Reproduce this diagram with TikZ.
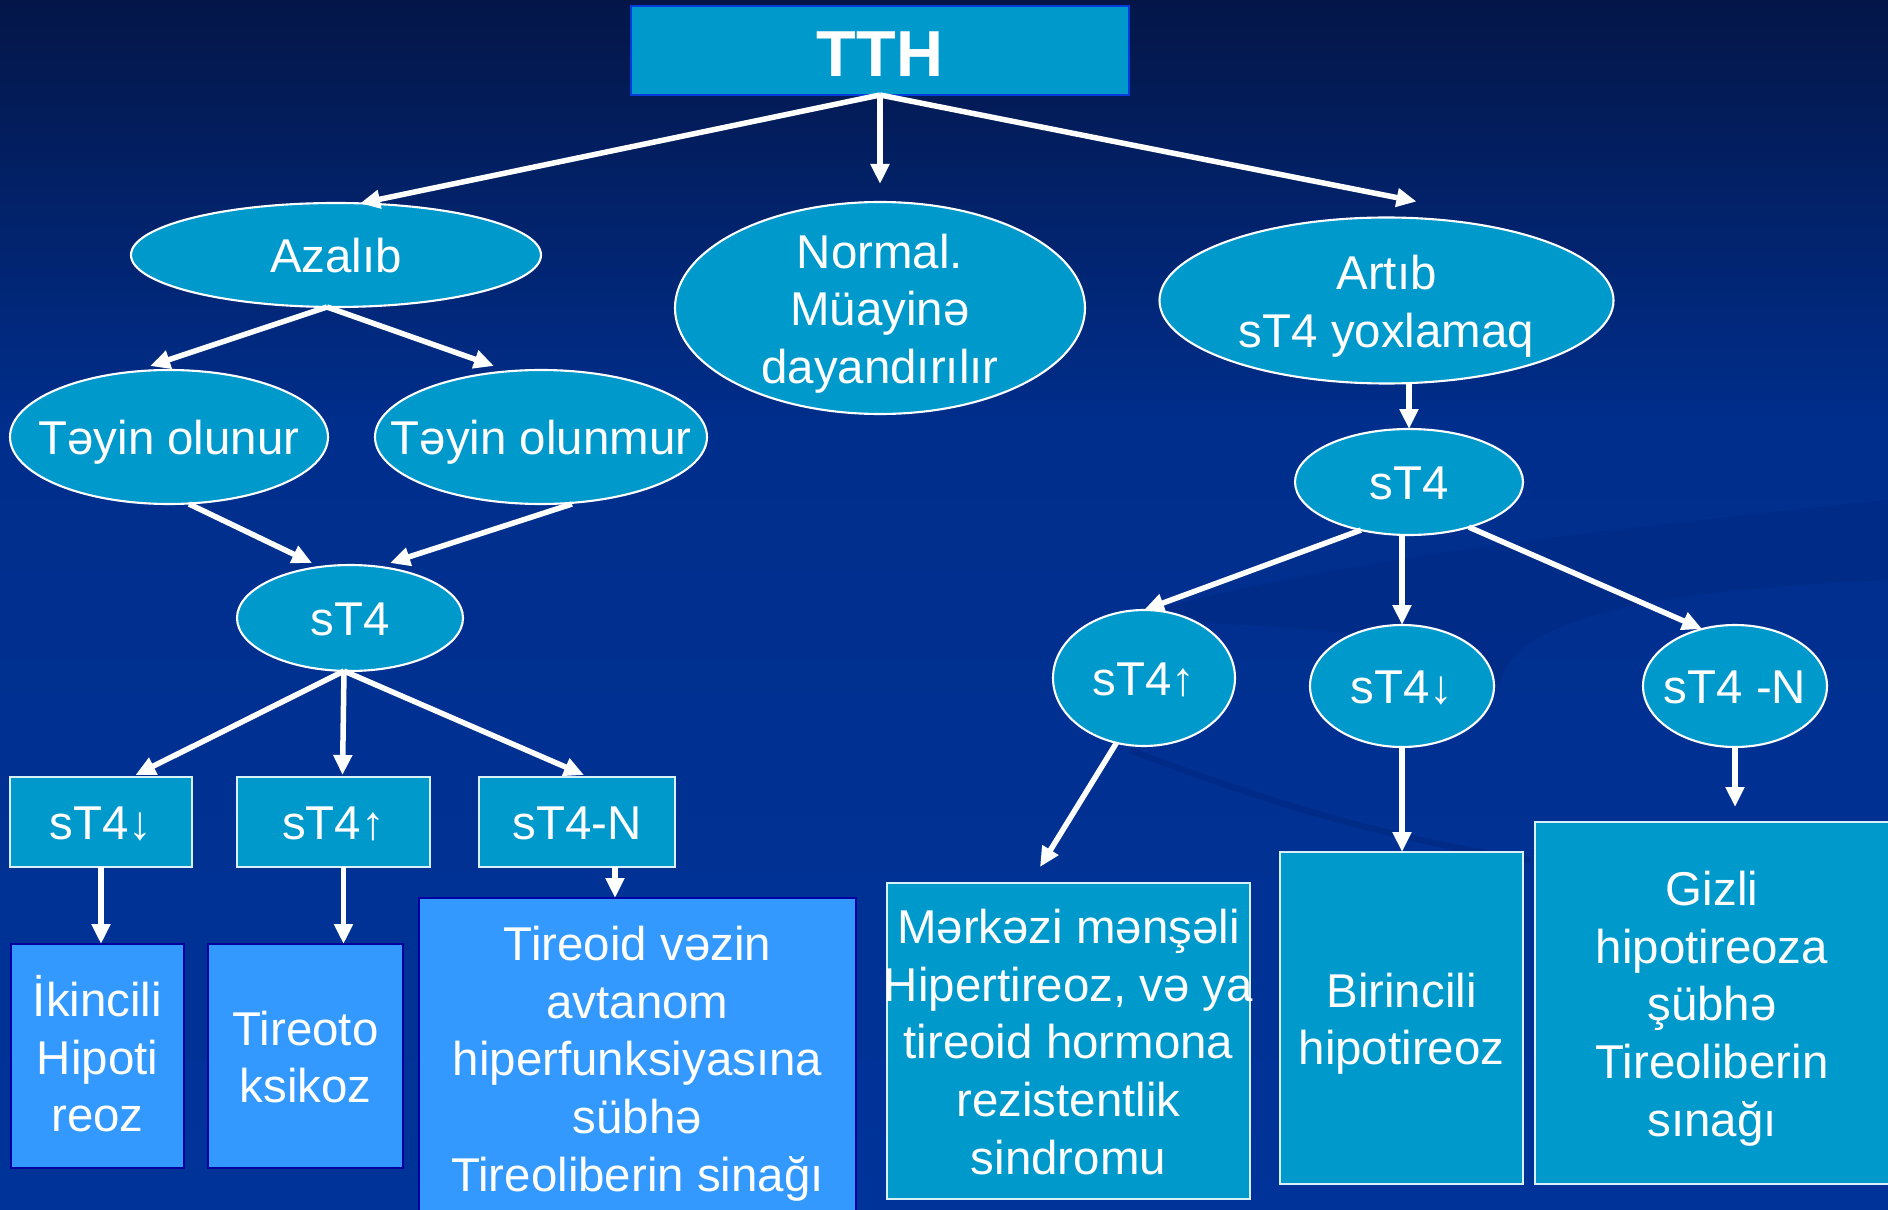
\documentclass[tikz,border=0pt]{standalone}
\usepackage{fontspec}
\setmainfont{Liberation Sans}
\usetikzlibrary{shapes.geometric,arrows.meta,calc}
\definecolor{nodefill}{RGB}{0,153,204}
\definecolor{lightbox}{RGB}{51,153,255}
\definecolor{lightborder}{RGB}{0,0,160}
\definecolor{tthborder}{RGB}{0,60,220}
\definecolor{bgtop}{RGB}{4,22,72}
\definecolor{bgmid}{RGB}{0,46,140}
\definecolor{bgbot}{RGB}{0,51,153}
\definecolor{swirlc}{RGB}{0,30,110}
\newcommand{\ctext}[2][-5.4pt]{\makebox[0pt]{\smash{\raisebox{#1}{\begin{tabular}{@{}c@{}}#2\end{tabular}}}}}
\tikzset{
  base/.style={inner sep=0pt, outer sep=0pt, text=white, font=\fontsize{13.5pt}{16.4pt}\selectfont},
  sz/.style 2 args={minimum width=#1cm, minimum height=#2cm},
  ell/.style={base, ellipse, draw=white, line width=0.6pt, fill=nodefill},
  dbox/.style={base, rectangle, draw=white!85!nodefill, line width=0.6pt, fill=nodefill},
  lbox/.style={base, rectangle, draw=lightborder, line width=0.8pt, fill=lightbox},
  tthbox/.style={base, rectangle, draw=tthborder, line width=0.8pt, fill=nodefill, font=\bfseries\fontsize{18.5pt}{20pt}\selectfont},
  arr/.style={draw=white, line width=0.055cm, -{Triangle[length=0.2cm,width=0.18cm]}},
  swirl/.style={fill=swirlc, fill opacity=0.22},
  swirlline/.style={draw=swirlc, draw opacity=0.3, line width=0.06cm}
}
\begin{document}
\begin{tikzpicture}
\useasboundingbox (0,0) rectangle (18.88,-12.10);
\clip (0,0) rectangle (18.88,-12.10);
% background
\shade[top color=bgtop, bottom color=bgmid] (0,0) rectangle (18.88,-4.25);
\shade[top color=bgmid, bottom color=bgbot] (0,-4.2) rectangle (18.88,-12.10);
\fill[swirl] (11.2,-6.2) .. controls (13.2,-5.6) and (16.0,-5.3) .. (18.88,-5.0)
  -- (18.88,-5.8) .. controls (16.5,-5.9) and (15.0,-6.2) .. (15.0,-6.9)
  .. controls (14.9,-6.4) and (13.2,-6.25) .. cycle;
\draw[swirlline] (11.3,-7.5) .. controls (12.6,-8.0) and (13.9,-8.4) .. (15.3,-8.6);

% nodes
\node[tthbox, sz={4.98}{0.89}] (tth) at (8.80,-0.505) {\ctext[-7.8pt]{TTH}};
\node[ell, sz={4.10}{1.04}] (azal) at (3.36,-2.55) {\ctext{Azalıb}};
\node[ell, sz={4.10}{2.12}] (norm) at (8.80,-3.08) {\ctext{Normal.\\Müayinə\\dayandırılır}};
\node[ell, sz={4.54}{1.66}] (art) at (13.865,-3.005) {\ctext{Artıb\\sT4 yoxlamaq}};
\node[ell, sz={3.18}{1.34}] (tay1) at (1.69,-4.37) {\ctext{Təyin olunur}};
\node[ell, sz={3.32}{1.34}] (tay2) at (5.41,-4.37) {\ctext{Təyin olunmur}};
\node[ell, sz={2.26}{1.06}] (sl) at (3.50,-6.18) {\ctext{sT4}};
\node[ell, sz={2.28}{1.06}] (sr) at (14.09,-4.82) {\ctext{sT4}};
\node[ell, sz={1.82}{1.36}] (r1) at (11.44,-6.78) {\ctext{sT4↑}};
\node[ell, sz={1.84}{1.22}] (r2) at (14.02,-6.86) {\ctext{sT4↓}};
\node[ell, sz={1.84}{1.22}] (r3) at (17.35,-6.86) {\ctext{sT4 -N}};

\node[dbox, sz={1.82}{0.90}] (lb1) at (1.01,-8.22) {\ctext{sT4↓}};
\node[dbox, sz={1.93}{0.90}] (lb2) at (3.335,-8.22) {\ctext{sT4↑}};
\node[dbox, sz={1.96}{0.90}] (lb3) at (5.77,-8.22) {\ctext{sT4-N}};

\node[lbox, sz={1.73}{2.24}] (lc1) at (0.975,-10.56) {\ctext{İkincili\\Hipoti\\reoz}};
\node[lbox, sz={1.95}{2.24}] (lc2) at (3.055,-10.56) {\ctext{Tireoto\\ksikoz}};
\node[lbox, sz={4.37}{3.20}] (lc3) at (6.375,-10.58) {\ctext{Tireoid vəzin\\avtanom\\hiperfunksiyasına\\sübhə\\Tireoliberin sinağı}};

\node[dbox, sz={3.63}{3.16}] (mk) at (10.685,-10.41) {\ctext{Mərkəzi mənşəli\\Hipertireoz, və ya\\tireoid hormona\\rezistentlik\\sindromu}};
\node[dbox, sz={2.43}{3.32}] (bi) at (14.015,-10.18) {\ctext{Birincili\\hipotireoz}};
\node[dbox, sz={3.54}{3.62}] (gz) at (17.12,-10.03) {\ctext{Gizli\\hipotireoza\\şübhə\\Tireoliberin\\sınağı}};

% connectors
\draw[arr] (tth.south) -- (azal.65);
\draw[arr, shorten >=0.18cm] (tth.south) -- (tth.south |- norm.north);
\draw[arr] (tth.south) -- ([xshift=0.30cm,yshift=0.16cm]art.north);

\draw[arr] ([xshift=-0.09cm]azal.south) -- ([xshift=-0.19cm,yshift=0.04cm]tay1.north);
\draw[arr] ([xshift=-0.09cm]azal.south) -- ([xshift=-0.47cm,yshift=0.04cm]tay2.north);
\draw[arr] ([xshift=0.20cm]tay1.south) -- ([xshift=-0.38cm,yshift=0.02cm]sl.north);
\draw[arr] ([xshift=0.31cm]tay2.south) -- ([xshift=0.40cm,yshift=0.02cm]sl.north);

\draw[arr] ([xshift=-0.06cm]sl.south) -- ([xshift=0.345cm,yshift=0.02cm]lb1.north);
\draw[arr] ([xshift=-0.06cm]sl.south) -- ([xshift=0.09cm,yshift=0.02cm]lb2.north);
\draw[arr] ([xshift=-0.06cm]sl.south) -- ([xshift=0.07cm,yshift=0.02cm]lb3.north);

\draw[arr] (lb1.south) -- (lb1.south |- lc1.north);
\draw[arr] ([xshift=0.1cm]lb2.south) -- ([xshift=0.1cm]lb2.south |- lc2.north);
\draw[arr] ([xshift=0.38cm]lb3.south) -- ([xshift=0.38cm]lb3.south |- lc3.north);

\draw[arr] (art.south -| sr.north) -- (sr.north);
\draw[arr] (sr.225) -- (r1.north);
\draw[arr] (r2.north |- sr.south) -- (r2.north);
\draw[arr] (sr.-37) -- (r3.120);

\draw[arr] (r1.247) -- ([xshift=-0.285cm,yshift=0.16cm]mk.north);
\draw[arr] (r2.south) -- (r2.south |- bi.north);
\draw[arr, shorten >=0.15cm] (r3.south) -- (r3.south |- gz.north);
\end{tikzpicture}
\end{document}
